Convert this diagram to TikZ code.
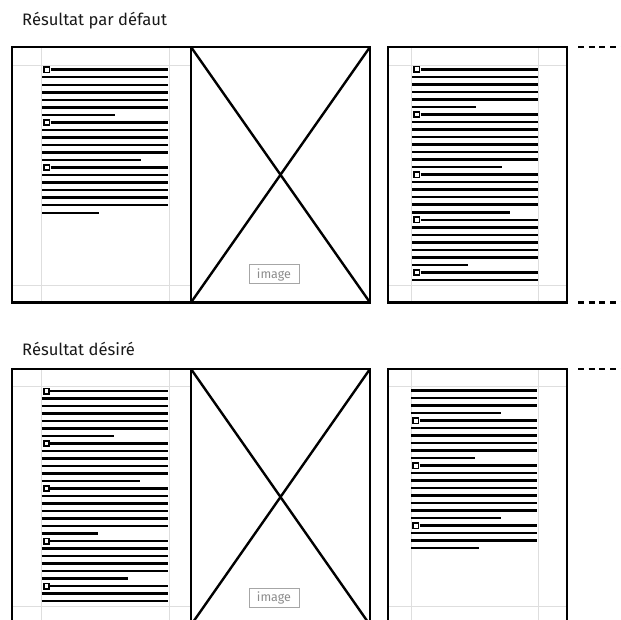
\documentclass[tikz,border=0pt]{standalone}
\usepackage{fontspec}
\setmainfont{Fira Sans}
\tikzset{
 pageframe/.style={draw=black, line width=2.6pt},
 guide/.style={draw=black!13, line width=0.9pt},
 tline/.style={draw=black, line width=2.5pt},
 sqbox/.style={draw=black, line width=1.6pt},
 diag/.style={draw=black, line width=2.4pt},
 imgbox/.style={draw=black!35, line width=1pt, text=black!45, font=\fontsize{12.5}{14}\selectfont, minimum width=50pt, minimum height=19pt, inner sep=0pt},
 ttl/.style={anchor=base west, font=\fontsize{16.6}{19}\selectfont, text=black!90, inner sep=0pt},
 dashln/.style={draw=black, line width=2.6pt, dash pattern=on 6pt off 4.7pt},
}
% #1 x0, #2 x1, #3 y of line 0, #4 spacing, #5 first index, #6 number of lines, #7 end of last line, #8 square (1/0)
\newcommand\pgpara[8]{%
 \foreach \k in {1,...,#6}{%
  \pgfmathsetmacro\yy{#3+(#5+\k-1)*#4}%
  \pgfmathsetmacro\xs{ifthenelse(\k==1 && #8==1, #1+8.5, #1)}%
  \pgfmathsetmacro\xe{ifthenelse(\k==#6, #7, #2)}%
  \draw[tline] (\xs,\yy) -- (\xe,\yy);
 }%
 \ifnum#8=1
   \pgfmathsetmacro\yq{#3+#5*#4}%
   \draw[sqbox] (#1+2.2,\yq-2.7) rectangle (#1+7.6,\yq+2.7);
 \fi
}
\begin{document}
\begin{tikzpicture}[x=1pt,y=-1pt]
\useasboundingbox (0,0) rectangle (621,620);
\clip (0,0) rectangle (621,620);
\fill[white] (0,0) rectangle (621,620);

% titles
\node[ttl] (t1) at (22,26) {Résultat par défaut};
\node[ttl] (t2) at (22,355) {Résultat désiré};

% guides and frames
\foreach \tp/\bt/\ga/\gb in {47/302.5/65/285, 369/625/386.5/606} {
  \draw[guide] (41,\tp) -- (41,\bt) (169,\tp) -- (169,\bt) (12,\ga) -- (191,\ga) (12,\gb) -- (191,\gb);
  \draw[guide] (411.5,\tp) -- (411.5,\bt) (538.5,\tp) -- (538.5,\bt) (388,\ga) -- (567,\ga) (388,\gb) -- (567,\gb);
  \draw[pageframe] (12,\tp) rectangle (191,\bt);
  \draw[pageframe] (191,\tp) rectangle (370,\bt);
  \draw[diag] (191,\tp) -- (370,\bt) (370,\tp) -- (191,\bt);
  \draw[pageframe] (388,\tp) rectangle (567,\bt);
}

% image labels
\node[imgbox] (img1) at (274,274.5) {image};
\node[imgbox] (img2) at (274,598) {image};

% dashed continuations
\coordinate (da1) at (578,47);    \coordinate (db1) at (621,47);
\coordinate (da2) at (578,302.5); \coordinate (db2) at (621,302.5);
\coordinate (da3) at (578,369);   \coordinate (db3) at (621,369);
\draw[dashln] (da1) -- (db1);
\draw[dashln] (da2) -- (db2);
\draw[dashln] (da3) -- (db3);

% top left page text
\pgpara{42}{168}{69.7}{7.53}{0}{7}{115}{1}
\pgpara{42}{168}{69.7}{7.53}{7}{6}{141}{1}
\pgpara{42}{168}{69.7}{7.53}{13}{7}{99}{1}

% top right page text
\pgpara{412}{538}{69.3}{7.525}{0}{6}{476}{1}
\pgpara{412}{538}{69.3}{7.525}{6}{8}{502}{1}
\pgpara{412}{538}{69.3}{7.525}{14}{6}{510}{1}
\pgpara{412}{538}{69.3}{7.525}{20}{7}{468}{1}
\pgpara{412}{538}{69.3}{7.525}{27}{2}{538}{1}

% bottom left page text
\pgpara{41.5}{167.5}{391}{7.5}{0}{7}{114}{1}
\pgpara{41.5}{167.5}{391}{7.5}{7}{6}{140}{1}
\pgpara{41.5}{167.5}{391}{7.5}{13}{7}{98}{1}
\pgpara{41.5}{167.5}{391}{7.5}{20}{6}{128}{1}
\pgpara{41.5}{167.5}{391}{7.5}{26}{3}{167.5}{1}

% bottom right page text
\pgpara{411}{537}{390.7}{7.5}{0}{4}{501}{0}
\pgpara{411}{537}{390.7}{7.5}{4}{6}{475}{1}
\pgpara{411}{537}{390.7}{7.5}{10}{8}{501}{1}
\pgpara{411}{537}{390.7}{7.5}{18}{4}{479}{1}
\end{tikzpicture}
\end{document}
